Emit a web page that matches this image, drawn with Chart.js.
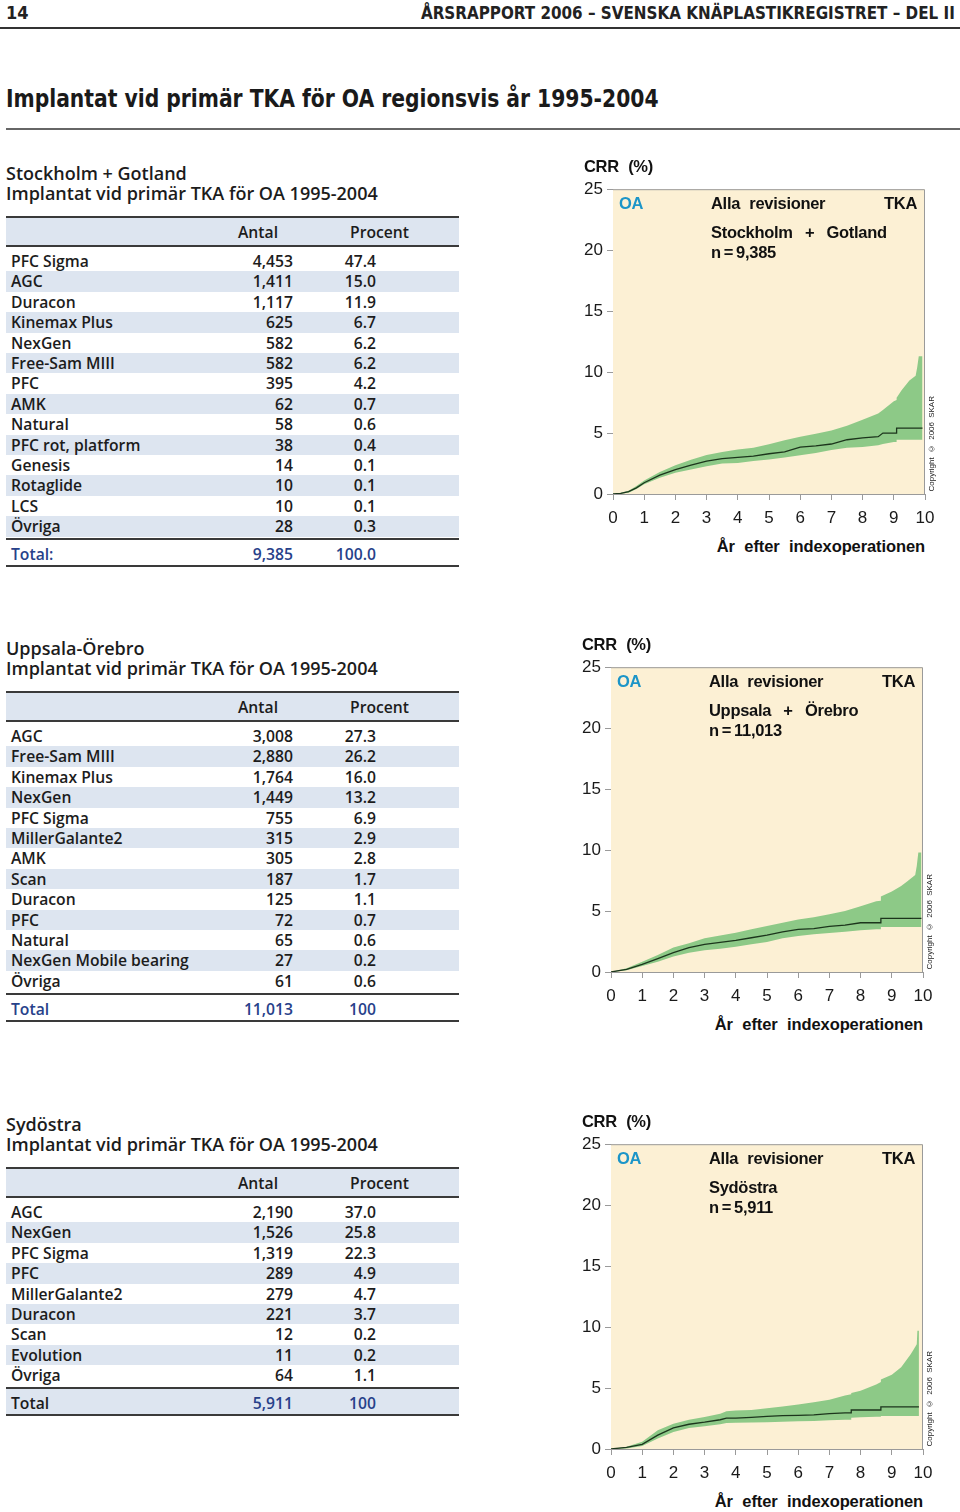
<!DOCTYPE html>
<html>
<head>
<meta charset="utf-8">
<script src="https://cdn.jsdelivr.net/npm/chart.js@4.4.1/dist/chart.umd.min.js"></script>
<style>
  body { margin:0; width:960px; height:1512px; position:relative; background:#fff; overflow:hidden;
         font-family:"Open Sans", "Noto Sans", sans-serif; color:#1c1c1c; }
  .abs { position:absolute; white-space:nowrap; }
  .cond { font-family:"Liberation Sans Narrow", "DejaVu Sans Condensed", sans-serif; font-weight:700; color:#222; }
  .sect { font-size:18px; font-weight:600; line-height:22px; left:6px; }
  .row { position:absolute; left:6px; width:453px; height:20.4px; font-size:15.7px; font-weight:600; line-height:20.4px; }
  .row span { position:absolute; top:0; }
  .name { left:5px; }
  .antal { right:166px; text-align:right; }
  .proc { right:83px; text-align:right; }
  .rule { position:absolute; left:6px; width:453px; height:2px; background:#3a3a3a; }
  .plot { position:absolute; width:312px; height:307px; }
  .plot div { position:absolute; white-space:nowrap; font-family:"Liberation Sans", Arial, sans-serif;
              font-weight:700; font-size:16.5px; line-height:20px; letter-spacing:-0.3px; word-spacing:5px; color:#111; }
  .plot .copy { font-weight:400; font-size:8px; line-height:10px; letter-spacing:0; word-spacing:2px;
                writing-mode:vertical-rl; transform:rotate(180deg); color:#222; }
  canvas { position:absolute; }
</style>
</head>
<body>

<!-- page header -->
<div class="abs cond" style="left:6px; top:3px; font-size:18px; line-height:20px;">14</div>
<div class="abs cond" style="right:5px; top:3px; font-size:18px; line-height:20px; transform:scaleX(0.937); transform-origin:right center;">ÅRSRAPPORT 2006 – SVENSKA KNÄPLASTIKREGISTRET – DEL II</div>
<div class="abs" style="left:0; top:27px; width:960px; height:1.5px; background:#333;"></div>
<div class="abs cond" style="left:6px; top:84px; font-size:24px; line-height:30px; color:#1a1a1a; transform:scaleX(0.94); transform-origin:left center;">Implantat vid primär TKA för OA regionsvis år 1995-2004</div>
<div class="abs" style="left:6px; top:128px; width:954px; height:2px; background:#666;"></div>

<div id="tables"></div>

<canvas id="c1" width="400" height="350"></canvas>
<canvas id="c2" width="400" height="350"></canvas>
<canvas id="c3" width="400" height="350"></canvas>

<div class="plot" id="p1"></div>
<div class="plot" id="p2"></div>
<div class="plot" id="p3"></div>

<script>
// ---- table data ----
const sthlmNames = ['PFC Sigma','AGC','Duracon','Kinemax Plus','NexGen','Free-Sam MIII','PFC','AMK','Natural','PFC rot, platform','Genesis','Rotaglide','LCS','Övriga'];
const sthlmAntal = ['4,453','1,411','1,117','625','582','582','395','62','58','38','14','10','10','28'];
const sthlmProcent = ['47.4','15.0','11.9','6.7','6.2','6.2','4.2','0.7','0.6','0.4','0.1','0.1','0.1','0.3'];

const uppsNames = ['AGC','Free-Sam MIII','Kinemax Plus','NexGen','PFC Sigma','MillerGalante2','AMK','Scan','Duracon','PFC','Natural','NexGen Mobile bearing','Övriga'];
const uppsAntal = ['3,008','2,880','1,764','1,449','755','315','305','187','125','72','65','27','61'];
const uppsProcent = ['27.3','26.2','16.0','13.2','6.9','2.9','2.8','1.7','1.1','0.7','0.6','0.2','0.6'];

const sydNames = ['AGC','NexGen','PFC Sigma','PFC','MillerGalante2','Duracon','Scan','Evolution','Övriga'];
const sydAntal = ['2,190','1,526','1,319','289','279','221','12','11','64'];
const sydProcent = ['37.0','25.8','22.3','4.9','4.7','3.7','0.2','0.2','1.1'];

// ---- curve data (years after index operation, CRR %, lower and upper CI) ----
const sthlmYears = [0,0.25,0.5,0.75,1,1.5,2,2.5,3,3.5,4,4.5,5,5.5,6,6.5,7,7.5,8,8.5,8.65,9,9.09,9.09,9.25,9.5,9.7,9.75,9.8,9.92];
const sthlmCrr   = [0,0.05,0.19,0.5,0.92,1.55,2.0,2.36,2.7,2.9,3.0,3.1,3.3,3.45,3.85,3.95,4.1,4.45,4.6,4.7,5.0,5.0,5.0,5.4,5.4,5.4,5.4,5.4,5.4,5.4];
const sthlmLow   = [0,0.02,0.1,0.4,0.8,1.33,1.74,2.0,2.28,2.5,2.55,2.7,2.83,3.0,3.18,3.37,3.6,3.8,3.86,4.0,4.1,4.27,4.27,4.45,4.45,4.45,4.45,4.45,4.45,4.45];
const sthlmHigh  = [0,0.1,0.27,0.65,1.1,1.8,2.35,2.8,3.2,3.45,3.65,3.8,4.08,4.4,4.7,4.95,5.2,5.6,6.1,6.6,6.9,7.6,7.7,7.9,8.5,9.3,9.7,10.4,11.3,11.3];

const uppsYears = [0,0.5,1,1.5,2,2.5,3,3.5,4,4.5,5,5.5,6,6.5,7,7.5,8,8.5,8.65,8.65,9,9.3,9.5,9.75,9.8,9.85,9.95];
const uppsCrr   = [0,0.22,0.63,1.1,1.58,2.0,2.27,2.43,2.6,2.81,3.03,3.3,3.5,3.55,3.74,3.85,4.04,4.04,4.04,4.4,4.4,4.4,4.4,4.4,4.4,4.4,4.4];
const uppsLow   = [0,0.14,0.5,0.85,1.28,1.58,1.78,1.9,2.08,2.27,2.46,2.76,2.95,3.1,3.2,3.3,3.42,3.5,3.5,3.7,3.7,3.7,3.7,3.7,3.7,3.7,3.7];
const uppsHigh  = [0,0.3,0.85,1.4,2.0,2.35,2.76,3.0,3.22,3.5,3.77,4.04,4.3,4.5,4.73,5.0,5.4,5.8,5.85,6.2,6.6,7.05,7.45,7.95,8.7,9.8,9.8];

const sydYears = [0,0.5,1,1.5,2,2.5,3,3.5,3.7,4,4.5,5,5.5,6,6.5,7,7.5,7.7,7.7,8,8.5,8.65,8.65,9,9.3,9.6,9.7,9.8,9.82,9.87];
const sydCrr   = [0,0.14,0.38,1.14,1.73,2.03,2.2,2.4,2.54,2.54,2.6,2.68,2.73,2.76,2.8,2.9,2.97,2.97,3.2,3.2,3.2,3.2,3.46,3.46,3.46,3.46,3.46,3.46,3.46,3.46];
const sydLow   = [0,0.05,0.24,0.86,1.4,1.73,1.86,2.03,2.13,2.16,2.18,2.2,2.23,2.27,2.3,2.35,2.4,2.4,2.57,2.6,2.65,2.65,2.7,2.7,2.7,2.7,2.7,2.7,2.7,2.7];
const sydHigh  = [0,0.19,0.6,1.54,2.08,2.4,2.62,2.9,3.1,3.16,3.2,3.35,3.49,3.65,3.84,4.03,4.38,4.5,4.6,4.78,5.3,5.5,5.7,6.1,6.7,7.75,8.16,8.6,9.7,9.7];

const yTicks = [0, 5, 10, 15, 20, 25];
const xTicks = [0, 1, 2, 3, 4, 5, 6, 7, 8, 9, 10];

const BLUE_ROW = '#dde5f0';
const NAVY = '#27418a';

function buildTable(top, title, names, antal, procent, totalLabel, totalAntal, totalProc, labelBlue, totalShaded) {
  const box = document.getElementById('tables');
  let html = '';
  html += `<div class="abs sect" style="top:${top - 55}px">${title}</div>`;
  html += `<div class="abs sect" style="top:${top - 35}px">Implantat vid primär TKA för OA 1995-2004</div>`;
  // header row
  html += `<div class="abs" style="left:6px; top:${top}px; width:453px; height:29px; background:${BLUE_ROW}"></div>`;
  html += `<div class="rule" style="top:${top - 1}px"></div>`;
  html += `<div class="row" style="top:${top + 5}px"><span class="antal" style="right:181px">Antal</span><span class="proc" style="right:50px">Procent</span></div>`;
  html += `<div class="rule" style="top:${top + 27.5}px"></div>`;
  const start = top + 34;
  names.forEach((n, i) => {
    const y = start + i * 20.4;
    const bg = i % 2 === 1 ? `background:${BLUE_ROW};` : '';
    html += `<div class="row" style="top:${y}px;${bg}"><span class="name">${n}</span>` +
            `<span class="antal">${antal[i]}</span><span class="proc">${procent[i]}</span></div>`;
  });
  const sep = start + names.length * 20.4 + 1.5;
  html += `<div class="rule" style="top:${sep}px"></div>`;
  const tb = totalShaded ? `background:${BLUE_ROW};` : '';
  html += `<div class="row" style="top:${sep + 2}px; height:25px; line-height:28px; ${tb}">` +
          `<span class="name" style="color:${labelBlue ? NAVY : '#1c1c1c'}">${totalLabel}</span>` +
          `<span class="antal" style="color:${NAVY}">${totalAntal}</span><span class="proc" style="color:${NAVY}">${totalProc}</span></div>`;
  html += `<div class="rule" style="top:${sep + 27}px"></div>`;
  box.insertAdjacentHTML('beforeend', html);
}

buildTable(217, 'Stockholm + Gotland', sthlmNames, sthlmAntal, sthlmProcent, 'Total:', '9,385', '100.0', true, false);
buildTable(692, 'Uppsala-Örebro', uppsNames, uppsAntal, uppsProcent, 'Total', '11,013', '100', true, false);
buildTable(1168, 'Sydöstra', sydNames, sydAntal, sydProcent, 'Total', '5,911', '100', false, true);

// ---- charts ----
const BEIGE = '#fcf0d4';
const GREEN = '#8dc987';
const FRAME = '#9a9a9a';

const plotBg = {
  id: 'plotBg',
  beforeDatasetsDraw(chart) {
    const a = chart.chartArea, c = chart.ctx;
    c.save();
    c.fillStyle = BEIGE;
    c.fillRect(a.left, a.top, a.right - a.left, a.bottom - a.top);
    c.restore();
  },
  afterDatasetsDraw(chart) {
    const a = chart.chartArea, c = chart.ctx;
    c.save();
    c.strokeStyle = FRAME;
    c.lineWidth = 1;
    c.beginPath();
    c.moveTo(a.left, a.top + 0.5);
    c.lineTo(a.right - 0.5, a.top + 0.5);
    c.lineTo(a.right - 0.5, a.bottom);
    c.stroke();
    c.restore();
  }
};

function pts(xs, ys) {
  return xs.map((x, i) => ({ x: x, y: ys[i] }));
}

function makeChart(id, left, top, xs, crr, low, high) {
  const cv = document.getElementById(id);
  cv.style.left = (left - 53) + 'px';
  cv.style.top = (top - 12) + 'px';
  const tickFont = { family: '"Liberation Sans", Arial, sans-serif', size: 17 };
  new Chart(cv, {
    type: 'line',
    data: {
      datasets: [
        { data: pts(xs, crr), borderColor: '#1c351c', borderWidth: 1.3, pointRadius: 0, fill: false },
        { data: pts(xs, high), borderColor: 'transparent', borderWidth: 0, pointRadius: 0, fill: '+1', backgroundColor: GREEN },
        { data: pts(xs, low), borderColor: 'transparent', borderWidth: 0, pointRadius: 0, fill: false }
      ]
    },
    options: {
      responsive: false,
      animation: false,
      layout: { padding: { top: 12, right: 35, left: 0, bottom: 0 } },
      elements: { line: { tension: 0 } },
      plugins: { legend: { display: false }, tooltip: { enabled: false } },
      scales: {
        x: {
          type: 'linear', min: 0, max: 10,
          afterBuildTicks: s => { s.ticks = xTicks.map(v => ({ value: v })); },
          afterFit: s => { s.height = 31; },
          ticks: { font: tickFont, color: '#1a1a1a', padding: 8, maxRotation: 0, autoSkip: false },
          grid: { drawOnChartArea: false, tickLength: 6, tickColor: FRAME },
          border: { color: FRAME }
        },
        y: {
          min: 0, max: 25,
          afterBuildTicks: s => { s.ticks = yTicks.map(v => ({ value: v })); },
          afterFit: s => { s.width = 53; },
          ticks: { font: tickFont, color: '#1a1a1a', padding: 4 },
          grid: { drawOnChartArea: false, tickLength: 6, tickColor: FRAME },
          border: { color: FRAME }
        }
      }
    },
    plugins: [plotBg]
  });
}

function addLabels(id, left, top, region, n) {
  const p = document.getElementById(id);
  p.style.left = left + 'px';
  p.style.top = top + 'px';
  p.innerHTML =
    `<div style="left:-29px; top:-31px">CRR (%)</div>` +
    `<div style="left:6px; top:6px; color:#1c95c8">OA</div>` +
    `<div style="left:98px; top:6px">Alla revisioner</div>` +
    `<div style="right:8px; top:6px">TKA</div>` +
    `<div style="left:98px; top:35px; word-spacing:8px">${region}</div>` +
    `<div style="left:98px; top:55px">n&thinsp;=&thinsp;${n}</div>` +
    `<div style="right:0; top:349px; letter-spacing:-0.1px">År efter indexoperationen</div>` +
    `<div class="copy" style="left:314px; bottom:3px">Copyright © 2006 SKAR</div>`;
}

makeChart('c1', 613, 187, sthlmYears, sthlmCrr, sthlmLow, sthlmHigh);
makeChart('c2', 611, 665, uppsYears, uppsCrr, uppsLow, uppsHigh);
makeChart('c3', 611, 1142, sydYears, sydCrr, sydLow, sydHigh);

addLabels('p1', 613, 187, 'Stockholm + Gotland', '9,385');
addLabels('p2', 611, 665, 'Uppsala + Örebro', '11,013');
addLabels('p3', 611, 1142, 'Sydöstra', '5,911');
</script>
</body>
</html>
